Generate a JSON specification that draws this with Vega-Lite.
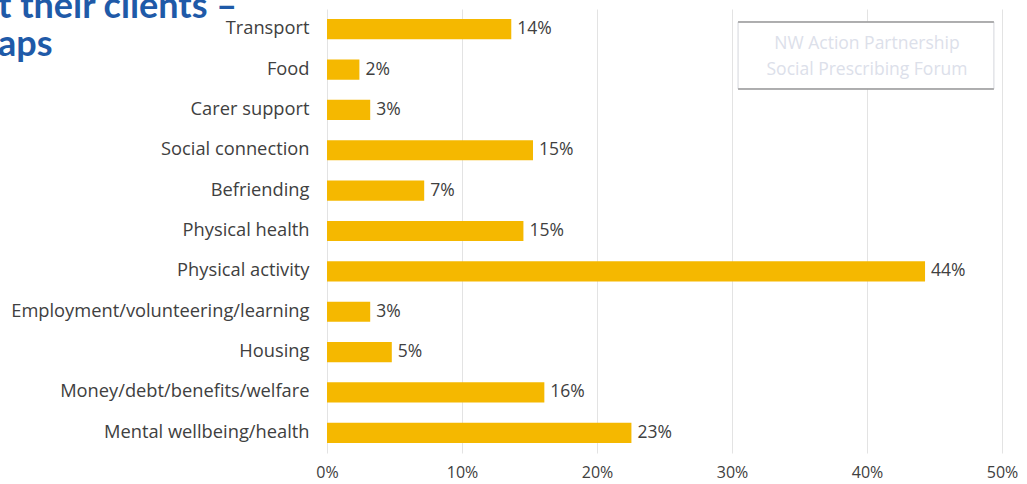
{
  "$schema": "https://vega.github.io/schema/vega-lite/v6.json",
  "autosize": {"type": "none"},
  "padding": {"left": 327, "top": 9, "right": 25, "bottom": 31},
  "width": 675,
  "height": 444,
  "background": "white",
  "title": {
    "text": ["t their clients –", "aps"],
    "anchor": "start",
    "frame": "group",
    "dx": -329,
    "dy": 59,
    "font": "Lato",
    "fontSize": 36,
    "fontWeight": "bold",
    "lineHeight": 38,
    "color": "#1F5AA8"
  },
  "config": {
    "view": {"stroke": null},
    "font": "Open Sans"
  },
  "data": {
    "values": [
      {"need": "Transport", "pct": 0.1365},
      {"need": "Food", "pct": 0.024},
      {"need": "Carer support", "pct": 0.032},
      {"need": "Social connection", "pct": 0.1526},
      {"need": "Befriending", "pct": 0.072},
      {"need": "Physical health", "pct": 0.1455},
      {"need": "Physical activity", "pct": 0.443},
      {"need": "Employment/volunteering/learning\u00a0", "pct": 0.032},
      {"need": "Housing", "pct": 0.048},
      {"need": "Money/debt/benefits/welfare", "pct": 0.161},
      {"need": "Mental wellbeing/health", "pct": 0.2255}
    ]
  },
  "encoding": {
    "y": {
      "field": "need",
      "type": "nominal",
      "sort": null,
      "title": null,
      "scale": {"paddingInner": 0.5, "paddingOuter": 0.25},
      "axis": {
        "ticks": false,
        "domain": false,
        "labelFontSize": 18.3,
        "labelColor": "#404040",
        "labelPadding": 18,
        "labelLimit": 400
      }
    }
  },
  "layer": [
    {
      "mark": {"type": "bar", "color": "#F5B800"},
      "encoding": {
        "x": {
          "field": "pct",
          "type": "quantitative",
          "title": null,
          "scale": {"domain": [0, 0.5]},
          "axis": {
            "format": ".0%",
            "values": [0, 0.1, 0.2, 0.3, 0.4, 0.5],
            "ticks": false,
            "domain": false,
            "gridColor": "#E3E3E3",
            "labelFontSize": 16,
            "labelColor": "#404040",
            "labelPadding": 11,
            "labelFlush": false
          }
        }
      }
    },
    {
      "mark": {"type": "text", "align": "left", "baseline": "middle", "dx": 6, "fontSize": 17.5, "color": "#404040"},
      "encoding": {
        "x": {"field": "pct", "type": "quantitative"},
        "text": {"field": "pct", "type": "quantitative", "format": ".0%"}
      }
    },
    {
      "data": {"values": [{"a": 0}]},
      "mark": {"type": "rect", "fill": "white", "stroke": "#D4D6DC", "strokeWidth": 1},
      "encoding": {
        "x": {"datum": 0.3045, "type": "quantitative"},
        "x2": {"datum": 0.494},
        "y": {"datum": "Transport", "type": "nominal", "bandPosition": 0.14},
        "y2": {"datum": "Food", "bandPosition": 1.46}
      }
    },
    {
      "data": {"values": [{"a": 0}]},
      "mark": {"type": "rule", "stroke": "#9A9A9A", "strokeWidth": 1.5},
      "encoding": {
        "x": {"datum": 0.3045, "type": "quantitative"},
        "x2": {"datum": 0.494},
        "y": {"datum": "Transport", "type": "nominal", "bandPosition": 0.14}
      }
    },
    {
      "data": {"values": [{"a": 0}]},
      "mark": {"type": "rule", "stroke": "#9A9A9A", "strokeWidth": 1.5},
      "encoding": {
        "x": {"datum": 0.3045, "type": "quantitative"},
        "x2": {"datum": 0.494},
        "y": {"datum": "Food", "type": "nominal", "bandPosition": 1.46}
      }
    },
    {
      "data": {"values": [{"a": 0}]},
      "mark": {"type": "text", "align": "center", "baseline": "middle", "dy": -26, "fontSize": 17.5, "lineHeight": 26, "color": "#DCE0EA", "text": ["NW Action Partnership", "Social Prescribing Forum"]},
      "encoding": {
        "x": {"datum": 0.4, "type": "quantitative"},
        "y": {"datum": "Food", "type": "nominal"}
      }
    }
  ]
}
